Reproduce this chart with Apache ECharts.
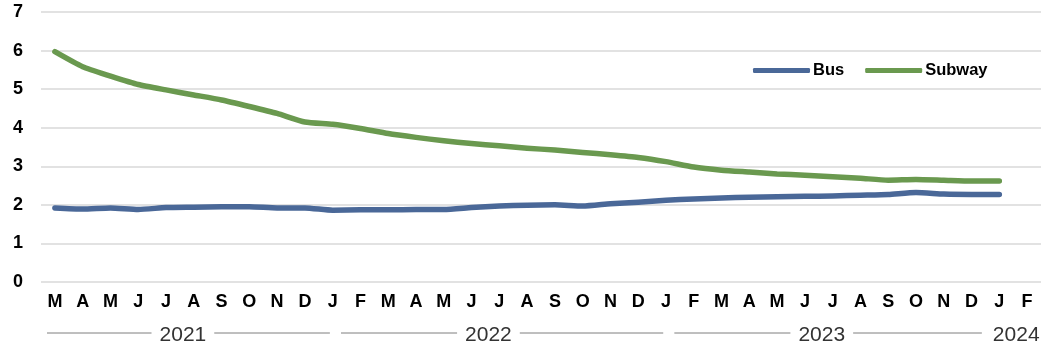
<!DOCTYPE html>
<html>
<head>
<meta charset="utf-8">
<style>
  html, body { margin: 0; padding: 0; background: #fff; }
  #chart { width: 1044px; height: 349px; }
</style>
<script src="https://cdn.jsdelivr.net/npm/echarts@6/dist/echarts.min.js"></script>
</head>
<body>
<div id="chart"></div>
<script>
// Monthly ridership index, March 2021 to February 2024
const months = ['M','A','M','J','J','A','S','O','N','D',
                'J','F','M','A','M','J','J','A','S','O','N','D',
                'J','F','M','A','M','J','J','A','S','O','N','D',
                'J','F'];
const yearLabels = ['2021', '2022', '2023', '2024'];
const monthsPerYear = [10, 12, 12, 2];

const bus = [1.92, 1.89, 1.92, 1.88, 1.93, 1.94, 1.95, 1.95, 1.92, 1.92,
             1.86, 1.87, 1.87, 1.88, 1.88, 1.93, 1.97, 1.99, 2.00, 1.97, 2.03, 2.07,
             2.12, 2.15, 2.18, 2.20, 2.21, 2.22, 2.23, 2.25, 2.27, 2.32, 2.28, 2.27,
             2.27, null];
const subway = [5.97, 5.58, 5.34, 5.12, 4.98, 4.85, 4.72, 4.55, 4.37, 4.15,
                4.09, 3.98, 3.85, 3.75, 3.66, 3.59, 3.53, 3.47, 3.42, 3.36, 3.30, 3.23,
                3.12, 2.98, 2.90, 2.85, 2.80, 2.77, 2.73, 2.69, 2.64, 2.66, 2.64, 2.62,
                2.62, null];
const yTicks = [0, 1, 2, 3, 4, 5, 6, 7];

const FONT = '"Liberation Sans", Arial, Helvetica, sans-serif';
const chart = echarts.init(document.getElementById('chart'));

chart.setOption({
  animation: false,
  backgroundColor: '#ffffff',
  grid: { left: 41, right: 3, top: 12, bottom: 67, containLabel: false },
  legend: {
    left: 748,
    top: 57,
    itemWidth: 57,
    itemHeight: 5,
    itemGap: 21,
    icon: 'roundRect',
    textStyle: { fontFamily: FONT, fontSize: 16.5, fontWeight: 'bold', color: '#000', padding: [0, 0, 0, -2] },
    data: ['Bus', 'Subway']
  },
  xAxis: {
    type: 'category',
    data: months,
    boundaryGap: true,
    axisLine: { show: false },
    axisTick: { show: false },
    axisLabel: { margin: 11, fontFamily: FONT, fontSize: 18, fontWeight: 'bold', color: '#000', interval: 0 }
  },
  yAxis: {
    type: 'value',
    min: yTicks[0],
    max: yTicks[yTicks.length - 1],
    interval: 1,
    axisLine: { show: false },
    axisTick: { show: false },
    axisLabel: { margin: 18, fontFamily: FONT, fontSize: 18, fontWeight: 'bold', color: '#000' },
    splitLine: { lineStyle: { color: '#d9d9d9', width: 1.5 } }
  },
  series: [
    {
      name: 'Bus', type: 'line', data: bus, smooth: 0.2, showSymbol: false, symbol: 'none',
      lineStyle: { color: '#4a6898', width: 5.5, cap: 'round', join: 'round' },
      itemStyle: { color: '#4a6898' }
    },
    {
      name: 'Subway', type: 'line', data: subway, smooth: 0.2, showSymbol: false, symbol: 'none',
      lineStyle: { color: '#6a994f', width: 5.5, cap: 'round', join: 'round' },
      itemStyle: { color: '#6a994f' }
    }
  ]
});

// Year group labels under the month axis, with rules either side
(function drawYearGroups() {
  const ctx = document.createElement('canvas').getContext('2d');
  const yearFont = 21;
  ctx.font = yearFont + 'px ' + FONT;
  const c0 = chart.convertToPixel({ xAxisIndex: 0 }, 0);
  const c1 = chart.convertToPixel({ xAxisIndex: 0 }, 1);
  const band = c1 - c0;
  const axisStart = c0 - band / 2;
  const textY = 335;
  const ruleY = 333;
  const elements = [];
  let idx = 0;
  const groups = [];
  yearLabels.forEach((label, g) => {
    const start = axisStart + idx * band;
    const end = start + monthsPerYear[g] * band;
    const w = ctx.measureText(label).width;
    const mid = (start + end) / 2;
    groups.push({ label, start, end, mid, w });
    idx += monthsPerYear[g];
  });
  groups.forEach((gr, g) => {
    elements.push({
      type: 'text',
      style: { text: gr.label, x: gr.mid + 3, y: textY, align: 'center', verticalAlign: 'middle',
               font: yearFont + 'px ' + FONT, fill: '#333' }
    });
    const textL = gr.mid + 3 - gr.w / 2 - 8;
    const textR = gr.mid + 3 + gr.w / 2 + 8;
    let lineStart = g === 0 ? gr.start + 6 : gr.start + band * 0.8;
    let lineEnd;
    if (g < groups.length - 1) {
      const next = groups[g + 1];
      lineEnd = Math.min(gr.end + band * 0.4, next.mid - next.w / 2 - 8);
    } else {
      lineEnd = gr.end;
    }
    const style = { stroke: '#7f7f7f', lineWidth: 1 };
    if (textL - lineStart > 4) {
      elements.push({ type: 'line', shape: { x1: lineStart, y1: ruleY, x2: textL, y2: ruleY }, style });
    }
    if (lineEnd - textR > 4) {
      elements.push({ type: 'line', shape: { x1: textR, y1: ruleY, x2: lineEnd, y2: ruleY }, style });
    }
  });
  chart.setOption({ graphic: { elements } });
})();
</script>
</body>
</html>
